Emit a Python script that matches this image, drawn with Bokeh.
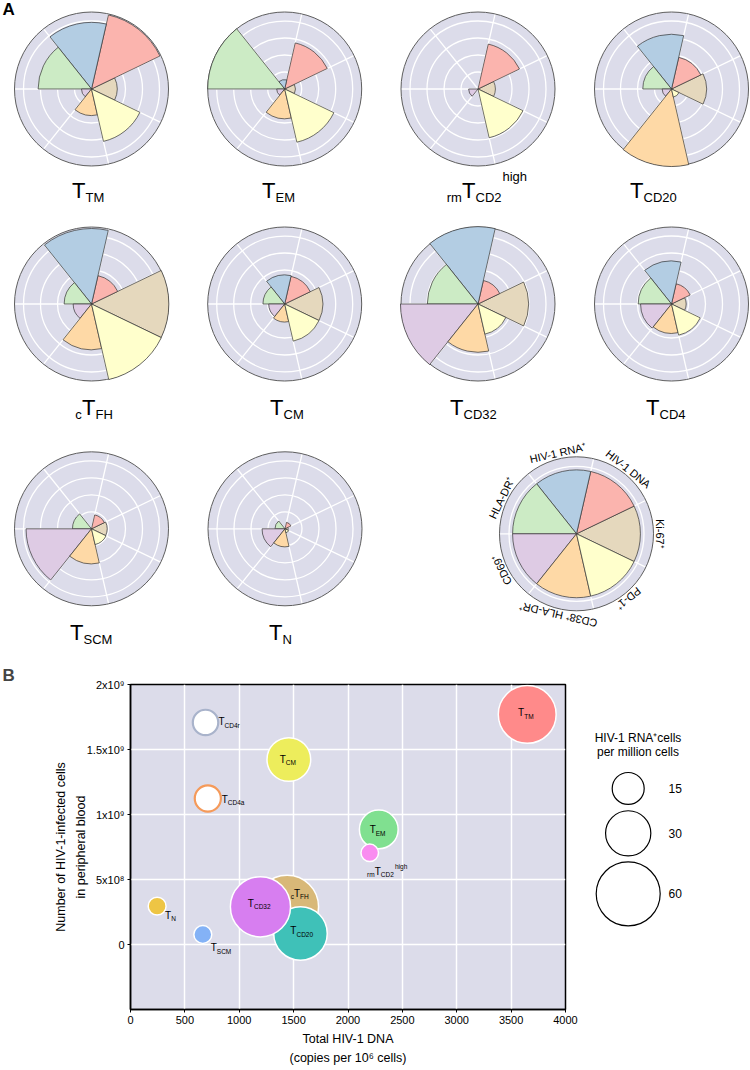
import numpy as np
from bokeh.plotting import figure
from bokeh.layouts import column, row
from bokeh.models import Range1d, FixedTicker, ColumnDataSource, Title
from bokeh.core.properties import value
from bokeh.embed import file_html
from bokeh.resources import INLINE

FONT = "Liberation Sans"

# ---------------- Panel A data ----------------
markers = ["Ki-67⁺", "HIV-1 DNA", "HIV-1 RNA⁺", "HLA-DR⁺", "CD69⁺", "CD38⁺ HLA-DR⁺", "PD-1⁺"]
marker_colors = ["#e5d8bd", "#fbb4ae", "#b3cde3", "#ccebc5", "#decbe4", "#fed9a6", "#ffffcc"]

# radial value of each marker sector (order = markers), in grid-ring units
TTM = [1.51, 4.47, 3.92, 3.14, 0.59, 1.56, 3.16]
TEM = [0.63, 2.78, 0.55, 4.53, 0.47, 1.75, 3.21]
rmTCD2high = [1.02, 2.71, 0.0, 0.0, 0.55, 0.0, 2.94]
TCD20 = [2.06, 1.91, 3.22, 1.69, 0.55, 4.56, 0.49]
cTFH = [4.55, 1.71, 4.44, 1.61, 1.08, 2.69, 4.56]
TCM = [2.24, 1.67, 1.71, 1.28, 0.94, 1.06, 2.24]
TCD32 = [2.98, 1.42, 4.55, 2.98, 4.56, 2.84, 1.82]
TCD4 = [0.86, 1.22, 2.53, 1.96, 1.82, 1.73, 1.88]
TSCM = [0.92, 0.84, 0.0, 1.12, 3.85, 2.06, 0.95]
TN = [0.19, 0.39, 0.0, 0.59, 1.35, 1.06, 0.24]
grid_rings = [1, 2, 3, 4]
legend_value = 3.76

# subset label parts: (prefix subscript, subscript, superscript)
label_parts = {
    "TTM": ("", "TM", ""), "TEM": ("", "EM", ""), "rmTCD2high": ("rm", "CD2", "high"),
    "TCD20": ("", "CD20", ""), "cTFH": ("c", "FH", ""), "TCM": ("", "CM", ""),
    "TCD32": ("", "CD32", ""), "TCD4": ("", "CD4", ""), "TSCM": ("", "SCM", ""),
    "TN": ("", "N", ""), "TCD4r": ("", "CD4r", ""), "TCD4a": ("", "CD4a", ""),
}

# ---------------- Panel B data ----------------
subsets_b = ["cTFH", "TCD20", "TCD32", "TTM", "TCM", "TCD4r", "TCD4a", "TEM", "rmTCD2high", "TN", "TSCM"]
total_dna = [1440, 1563, 1195, 3648, 1456, 690, 711, 2283, 2200, 245, 665]
infected_cells = [0.29e9, 0.085e9, 0.29e9, 1.77e9, 1.423e9, 1.708e9, 1.123e9, 0.885e9, 0.705e9, 0.295e9, 0.077e9]
rna_cells = [58, 42, 53, 49, 28, 9.5, 10, 22, 4.5, 4.7, 4.7]
bubble_fill = ["#d8b878", "#3fc1b8", "#d77ef0", "#ff8a8a", "#eded5c", "#ffffff", "#ffffff",
               "#80e090", "#f98cf0", "#eec544", "#84b2f6"]
bubble_line = ["white", "white", "white", "white", "white", "#a9b3cb", "#f59a5a",
               "white", "white", "white", "white"]
legend_sizes = [15, 30, 60]
x_ticks = [0, 500, 1000, 1500, 2000, 2500, 3000, 3500, 4000]
y_ticks = [0, 500000000, 1000000000, 1500000000, 2000000000]
y_tick_labels = ["0", "5x10⁸", "1x10⁹", "1.5x10⁹", "2x10⁹"]

# ---------------- styling / layout ----------------
BG = "#dcdcea"
UNIT = 17.0       # px per grid ring
R_EDGE = 77.0
K = 16.0 / np.sqrt(15.0)   # bubble radius px per sqrt(value)
MID = 0.35                 # cap-centre above baseline, in em


def text_w(s, fs):
    w = 0.0
    for ch in s:
        if ch.isupper():
            w += 0.70
        elif ch.isdigit():
            w += 0.556
        elif ch in "ilj":
            w += 0.222
        elif ch in "ft":
            w += 0.278
        elif ch == "m":
            w += 0.833
        else:
            w += 0.556
    return w * fs


def t_label(p, x, y, dx, dy, parts, fs_big, fs_small, sub_drop, sup_rise):
    """dy is the (screen, downward) offset of the T baseline."""
    pre, sub, sup = parts
    common = dict(text_font=value(FONT), text_color="black", text_baseline="middle")
    p.text(x=[x], y=[y], text=["T"], x_offset=dx, y_offset=dy - MID * fs_big, text_align="right",
           text_font_size=f"{fs_big}px", **common)
    sdy = dy + sub_drop - MID * fs_small
    if sub:
        p.text(x=[x], y=[y], text=[sub], x_offset=dx, y_offset=sdy, text_align="left",
               text_font_size=f"{fs_small}px", **common)
    if pre:
        p.text(x=[x], y=[y], text=[pre], x_offset=dx - 0.62 * fs_big, y_offset=sdy,
               text_align="right", text_font_size=f"{fs_small}px", **common)
    if sup:
        p.text(x=[x], y=[y], text=[sup], x_offset=dx + text_w(sub, fs_small) + 1.5,
               y_offset=dy - sup_rise - MID * fs_small, text_align="left",
               text_font_size=f"{fs_small}px", **common)


# ================= Panel A canvas (data units = page pixels) =================
TOP_H = 660
top = figure(width=750, height=TOP_H, x_range=Range1d(0, 750), y_range=Range1d(-TOP_H, 0),
             x_axis_type=None, y_axis_type=None, toolbar_location=None, output_backend="svg",
             min_border=0, outline_line_color=None, title=None)

n = len(markers)
step = 2 * np.pi / n
mids = np.arange(n) * step
bounds = mids + step / 2
colors = np.array(marker_colors)

charts = [
    ("TTM", TTM, 91.0, 88.5), ("TEM", TEM, 284.2, 88.5), ("rmTCD2high", rmTCD2high, 477.5, 88.5),
    ("TCD20", TCD20, 671.0, 88.5),
    ("cTFH", cTFH, 91.0, 303.5), ("TCM", TCM, 284.2, 303.5), ("TCD32", TCD32, 477.5, 303.5),
    ("TCD4", TCD4, 671.0, 303.5),
    ("TSCM", TSCM, 91.0, 528.3), ("TN", TN, 284.5, 528.3),
]


def draw_base(cx, cy, rings):
    top.circle(x=cx, y=-cy, radius=R_EDGE, fill_color=BG, line_color="#5e5e5e", line_width=1.0)
    top.circle(x=[cx] * len(rings), y=[-cy] * len(rings), radius=rings, fill_color=None,
               line_color="white", line_width=1.3)
    top.segment(x0=[cx] * n, y0=[-cy] * n,
                x1=list(cx + (R_EDGE - 0.8) * np.cos(bounds)),
                y1=list(-cy + (R_EDGE - 0.8) * np.sin(bounds)),
                line_color="white", line_width=1.3)


for name, vals, cx, cy in charts:
    draw_base(cx, cy, [UNIT * g for g in grid_rings])
    v = np.array(vals)
    m = v > 0
    top.wedge(x=cx, y=-cy, radius=list(v[m] * UNIT), start_angle=list(mids[m] - step / 2),
              end_angle=list(mids[m] + step / 2), fill_color=list(colors[m]),
              line_color="#333333", line_width=0.7)

# subset titles below each polar chart (pivot x, T baseline y)
title_pos = [("TTM", 85, 198), ("TEM", 275, 198), ("rmTCD2high", 475, 198), ("TCD20", 643, 198),
             ("cTFH", 95, 415), ("TCM", 283, 415), ("TCD32", 463, 415), ("TCD4", 659, 415),
             ("TSCM", 83, 640), ("TN", 282, 640)]
for name, px, py in title_pos:
    t_label(top, px, -py, 0, 0, label_parts[name], 22, 13, 3.5, 17)

# key chart
LCX, LCY = 576.0, 533.3
draw_base(LCX, LCY, [67.5])
top.wedge(x=LCX, y=-LCY, radius=legend_value * UNIT, start_angle=list(mids - step / 2),
          end_angle=list(mids + step / 2), fill_color=marker_colors, line_color="#333333", line_width=0.7)
RT = 83.0
top.text(x=list(LCX + RT * np.cos(mids)), y=list(-LCY + RT * np.sin(mids)), text=markers,
         angle=list(mids - np.pi / 2), text_align="center", text_baseline="middle",
         text_font=value(FONT), text_font_size="11px", text_color="black")

top.text(x=[2], y=[-9], text=["A"], text_font=value(FONT), text_font_size="17px",
         text_font_style="bold", text_align="left", text_baseline="middle")

# ================= Panel B bubble chart =================
B_H = 408
bp = figure(width=579, height=B_H, x_range=Range1d(0, 4000), y_range=Range1d(-5e8, 2e9),
            toolbar_location=None, output_backend="svg", min_border_left=130, min_border_right=14,
            min_border_top=24, min_border_bottom=58, title=None)
bp.add_layout(Title(text="B", align="left", offset=-128, text_font=FONT, text_font_size="17px",
                    text_font_style="bold", standoff=0), "above")
bp.background_fill_color = BG
bp.border_fill_color = "white"
bp.outline_line_color = "black"
bp.outline_line_width = 1.5

bp.xaxis.ticker = FixedTicker(ticks=x_ticks)
bp.yaxis.ticker = FixedTicker(ticks=y_ticks)
bp.yaxis.major_label_overrides = {t: lab for t, lab in zip(y_ticks, y_tick_labels)}
for ax in (bp.xaxis, bp.yaxis):
    ax.axis_line_color = "black"
    ax.axis_line_width = 1.5
    ax.major_tick_line_color = "black"
    ax.major_tick_out = 3
    ax.major_tick_in = 0
    ax.minor_tick_line_color = None
    ax.major_label_text_font = FONT
    ax.major_label_text_font_size = "11px"
    ax.major_label_text_color = "black"
    ax.major_label_standoff = 3
    ax.axis_label_text_font = FONT
    ax.axis_label_text_font_size = "12.5px"
    ax.axis_label_text_font_style = "normal"
    ax.axis_label_text_color = "black"
    ax.axis_label_text_line_height = 1.4
bp.xaxis.axis_label_standoff = 5
bp.yaxis.axis_label_standoff = -4
bp.xaxis.axis_label = "Total HIV-1 DNA\n(copies per 10⁶ cells)"
bp.yaxis.axis_label = "Number of HIV-1-infected cells\nin peripheral blood"

bp.xgrid.ticker = FixedTicker(ticks=x_ticks[1:-1])
bp.ygrid.ticker = FixedTicker(ticks=y_ticks[:-1])
bp.grid.grid_line_color = "white"
bp.grid.grid_line_width = 1.5

src = ColumnDataSource(dict(
    x=total_dna, y=infected_cells,
    size=[2 * K * np.sqrt(v) for v in rna_cells],
    fill=bubble_fill, line=bubble_line,
    lw=[2.2 if c != "white" else 1.5 for c in bubble_line],
))
bp.scatter("x", "y", size="size", source=src, fill_color="fill", line_color="line", line_width="lw")

# bubble labels: pixel offsets of T pivot/baseline from the bubble centre
bubble_label_offsets = {
    "cTFH": (13, -10), "TCD20": (-4, 1), "TCD32": (-6.5, 0), "TTM": (-3, 2), "TCM": (-3, 3),
    "TCD4r": (19, 3), "TCD4a": (20, 4), "TEM": (-3, 4), "rmTCD2high": (11, 22),
    "TN": (14, 13), "TSCM": (14, 17),
}
for name, xv, yv in zip(subsets_b, total_dna, infected_cells):
    dx, dy = bubble_label_offsets[name]
    t_label(bp, xv, yv, dx, dy, label_parts[name], 10, 6.5, 2, 6)

# size legend (its frame is aligned with the bubble chart frame: page y 684..1010)
lf = figure(width=171, height=B_H, x_range=Range1d(579, 750), y_range=Range1d(-1010, -684),
            x_axis_type=None, y_axis_type=None, toolbar_location=None, output_backend="svg",
            min_border=0, outline_line_color=None, title=None)
leg_y = [788.3, 833.3, 894.0]
lf.circle(x=[627.7] * 3, y=[-v for v in leg_y], radius=[K * np.sqrt(s) for s in legend_sizes],
          fill_color=None, line_color="black", line_width=1.2)
lf.text(x=[668] * 3, y=[-v for v in leg_y], text=[str(s) for s in legend_sizes],
        text_font=value(FONT), text_font_size="12px", text_align="left", text_baseline="middle")
lf.text(x=[637.5, 637.5], y=[-738, -752], text=["HIV-1 RNA⁺cells", "per million cells"],
        text_font=value(FONT), text_font_size="12px", text_align="center", text_baseline="middle")

layout = column(top, row(bp, lf))
open("out.html", "w").write(file_html(layout, INLINE))
